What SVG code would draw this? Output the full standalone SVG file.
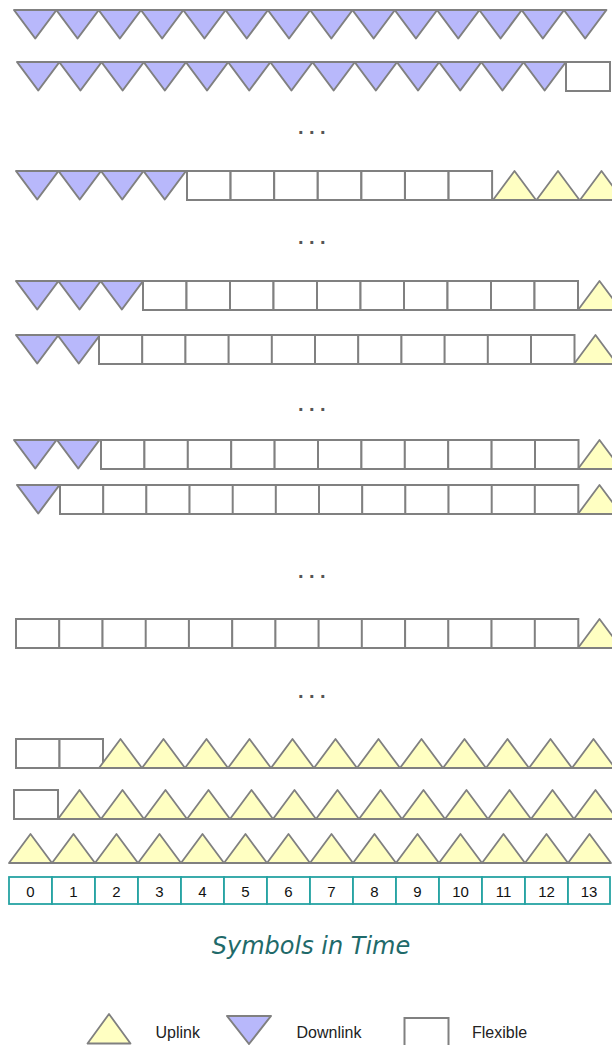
<svg xmlns="http://www.w3.org/2000/svg" xmlns:xlink="http://www.w3.org/1999/xlink" width="612" height="1045" viewBox="0 0 612 1045">
<style>
.dl{fill:#b8b8fb;stroke:#808080;stroke-width:2;stroke-linejoin:round}
.ul{fill:#ffffc2;stroke:#808080;stroke-width:1.8;stroke-linejoin:round}
.fx{fill:#ffffff;stroke:#808080;stroke-width:2}
.ix{fill:#ffffff;stroke:#26a3a3;stroke-width:1.8}
.num{font-family:"Liberation Sans",Arial,sans-serif;font-size:15px;fill:#111;text-anchor:middle}
.dots{font-family:"Liberation Sans",Arial,sans-serif;font-size:20px;font-weight:bold;fill:#555;letter-spacing:5.4px}
.leg{font-family:"Liberation Sans",Arial,sans-serif;font-size:16px;fill:#222}
.title{font-family:"DejaVu Sans",sans-serif;font-style:oblique;font-size:24px;fill:#1f6a6a;text-anchor:middle}
</style>
<defs>
<path id="dlt" d="M0,0 H42.5 L21.25,28.5 Z"/>
<path id="ult" d="M0,29 H43 L21.5,0 Z"/>
<rect id="fxb" x="0" y="0" width="43.5" height="29"/>
</defs>

<g id="row1">
<use xlink:href="#dlt" class="dl" x="14" y="10"/>
<use xlink:href="#dlt" class="dl" x="56.3" y="10"/>
<use xlink:href="#dlt" class="dl" x="98.6" y="10"/>
<use xlink:href="#dlt" class="dl" x="140.9" y="10"/>
<use xlink:href="#dlt" class="dl" x="183.2" y="10"/>
<use xlink:href="#dlt" class="dl" x="225.5" y="10"/>
<use xlink:href="#dlt" class="dl" x="267.8" y="10"/>
<use xlink:href="#dlt" class="dl" x="310.1" y="10"/>
<use xlink:href="#dlt" class="dl" x="352.4" y="10"/>
<use xlink:href="#dlt" class="dl" x="394.7" y="10"/>
<use xlink:href="#dlt" class="dl" x="437" y="10"/>
<use xlink:href="#dlt" class="dl" x="479.3" y="10"/>
<use xlink:href="#dlt" class="dl" x="521.6" y="10"/>
<use xlink:href="#dlt" class="dl" x="563.9" y="10"/>
</g>

<g id="row2">
<use xlink:href="#dlt" class="dl" x="17" y="62"/>
<use xlink:href="#dlt" class="dl" x="59.2" y="62"/>
<use xlink:href="#dlt" class="dl" x="101.4" y="62"/>
<use xlink:href="#dlt" class="dl" x="143.6" y="62"/>
<use xlink:href="#dlt" class="dl" x="185.8" y="62"/>
<use xlink:href="#dlt" class="dl" x="228" y="62"/>
<use xlink:href="#dlt" class="dl" x="270.2" y="62"/>
<use xlink:href="#dlt" class="dl" x="312.4" y="62"/>
<use xlink:href="#dlt" class="dl" x="354.6" y="62"/>
<use xlink:href="#dlt" class="dl" x="396.8" y="62"/>
<use xlink:href="#dlt" class="dl" x="439" y="62"/>
<use xlink:href="#dlt" class="dl" x="481.2" y="62"/>
<use xlink:href="#dlt" class="dl" x="523.4" y="62"/>
<rect class="fx" x="566" y="62" width="44" height="29"/>
</g>

<text class="dots" x="298" y="134">...</text>

<g id="row3">
<use xlink:href="#dlt" class="dl" x="16" y="171"/>
<use xlink:href="#dlt" class="dl" x="58.5" y="171"/>
<use xlink:href="#dlt" class="dl" x="101" y="171"/>
<use xlink:href="#dlt" class="dl" x="143.5" y="171"/>
<use xlink:href="#fxb" class="fx" x="187" y="171"/>
<use xlink:href="#fxb" class="fx" x="230.6" y="171"/>
<use xlink:href="#fxb" class="fx" x="274.2" y="171"/>
<use xlink:href="#fxb" class="fx" x="317.8" y="171"/>
<use xlink:href="#fxb" class="fx" x="361.4" y="171"/>
<use xlink:href="#fxb" class="fx" x="405" y="171"/>
<use xlink:href="#fxb" class="fx" x="448.6" y="171"/>
<use xlink:href="#ult" class="ul" x="493" y="171"/>
<use xlink:href="#ult" class="ul" x="536.5" y="171"/>
<use xlink:href="#ult" class="ul" x="580" y="171"/>
</g>

<text class="dots" x="298" y="244">...</text>

<g id="row4">
<use xlink:href="#dlt" class="dl" x="16" y="281"/>
<use xlink:href="#dlt" class="dl" x="58.3" y="281"/>
<use xlink:href="#dlt" class="dl" x="100.6" y="281"/>
<use xlink:href="#fxb" class="fx" x="143" y="281"/>
<use xlink:href="#fxb" class="fx" x="186.5" y="281"/>
<use xlink:href="#fxb" class="fx" x="230" y="281"/>
<use xlink:href="#fxb" class="fx" x="273.5" y="281"/>
<use xlink:href="#fxb" class="fx" x="317" y="281"/>
<use xlink:href="#fxb" class="fx" x="360.5" y="281"/>
<use xlink:href="#fxb" class="fx" x="404" y="281"/>
<use xlink:href="#fxb" class="fx" x="447.5" y="281"/>
<use xlink:href="#fxb" class="fx" x="491" y="281"/>
<use xlink:href="#fxb" class="fx" x="534.5" y="281"/>
<use xlink:href="#ult" class="ul" x="578" y="281"/>
</g>

<g id="row5">
<use xlink:href="#dlt" class="dl" x="16" y="335"/>
<use xlink:href="#dlt" class="dl" x="57.5" y="335"/>
<use xlink:href="#fxb" class="fx" x="99" y="335"/>
<use xlink:href="#fxb" class="fx" x="142.2" y="335"/>
<use xlink:href="#fxb" class="fx" x="185.4" y="335"/>
<use xlink:href="#fxb" class="fx" x="228.6" y="335"/>
<use xlink:href="#fxb" class="fx" x="271.8" y="335"/>
<use xlink:href="#fxb" class="fx" x="315" y="335"/>
<use xlink:href="#fxb" class="fx" x="358.2" y="335"/>
<use xlink:href="#fxb" class="fx" x="401.4" y="335"/>
<use xlink:href="#fxb" class="fx" x="444.6" y="335"/>
<use xlink:href="#fxb" class="fx" x="487.8" y="335"/>
<use xlink:href="#fxb" class="fx" x="531" y="335"/>
<use xlink:href="#ult" class="ul" x="574" y="335"/>
</g>

<text class="dots" x="298" y="411">...</text>

<g id="row6">
<use xlink:href="#dlt" class="dl" x="14" y="440"/>
<use xlink:href="#dlt" class="dl" x="57" y="440"/>
<use xlink:href="#fxb" class="fx" x="101" y="440"/>
<use xlink:href="#fxb" class="fx" x="144.4" y="440"/>
<use xlink:href="#fxb" class="fx" x="187.8" y="440"/>
<use xlink:href="#fxb" class="fx" x="231.2" y="440"/>
<use xlink:href="#fxb" class="fx" x="274.6" y="440"/>
<use xlink:href="#fxb" class="fx" x="318" y="440"/>
<use xlink:href="#fxb" class="fx" x="361.4" y="440"/>
<use xlink:href="#fxb" class="fx" x="404.8" y="440"/>
<use xlink:href="#fxb" class="fx" x="448.2" y="440"/>
<use xlink:href="#fxb" class="fx" x="491.6" y="440"/>
<use xlink:href="#fxb" class="fx" x="535" y="440"/>
<use xlink:href="#ult" class="ul" x="578" y="440"/>
</g>

<g id="row7">
<use xlink:href="#dlt" class="dl" x="17" y="485"/>
<use xlink:href="#fxb" class="fx" x="60" y="485"/>
<use xlink:href="#fxb" class="fx" x="103.2" y="485"/>
<use xlink:href="#fxb" class="fx" x="146.3" y="485"/>
<use xlink:href="#fxb" class="fx" x="189.5" y="485"/>
<use xlink:href="#fxb" class="fx" x="232.7" y="485"/>
<use xlink:href="#fxb" class="fx" x="275.8" y="485"/>
<use xlink:href="#fxb" class="fx" x="319" y="485"/>
<use xlink:href="#fxb" class="fx" x="362.2" y="485"/>
<use xlink:href="#fxb" class="fx" x="405.3" y="485"/>
<use xlink:href="#fxb" class="fx" x="448.5" y="485"/>
<use xlink:href="#fxb" class="fx" x="491.7" y="485"/>
<use xlink:href="#fxb" class="fx" x="534.8" y="485"/>
<use xlink:href="#ult" class="ul" x="578" y="485"/>
</g>

<text class="dots" x="298" y="578">...</text>

<g id="row8">
<use xlink:href="#fxb" class="fx" x="16" y="619"/>
<use xlink:href="#fxb" class="fx" x="59.2" y="619"/>
<use xlink:href="#fxb" class="fx" x="102.5" y="619"/>
<use xlink:href="#fxb" class="fx" x="145.7" y="619"/>
<use xlink:href="#fxb" class="fx" x="188.9" y="619"/>
<use xlink:href="#fxb" class="fx" x="232.2" y="619"/>
<use xlink:href="#fxb" class="fx" x="275.4" y="619"/>
<use xlink:href="#fxb" class="fx" x="318.6" y="619"/>
<use xlink:href="#fxb" class="fx" x="361.8" y="619"/>
<use xlink:href="#fxb" class="fx" x="405.1" y="619"/>
<use xlink:href="#fxb" class="fx" x="448.3" y="619"/>
<use xlink:href="#fxb" class="fx" x="491.5" y="619"/>
<use xlink:href="#fxb" class="fx" x="534.8" y="619"/>
<use xlink:href="#ult" class="ul" x="578" y="619"/>
</g>

<text class="dots" x="298" y="698">...</text>

<g id="row9">
<use xlink:href="#fxb" class="fx" x="16" y="739"/>
<use xlink:href="#fxb" class="fx" x="59.5" y="739"/>
<use xlink:href="#ult" class="ul" x="99" y="739"/>
<use xlink:href="#ult" class="ul" x="142" y="739"/>
<use xlink:href="#ult" class="ul" x="185" y="739"/>
<use xlink:href="#ult" class="ul" x="228" y="739"/>
<use xlink:href="#ult" class="ul" x="271" y="739"/>
<use xlink:href="#ult" class="ul" x="314" y="739"/>
<use xlink:href="#ult" class="ul" x="357" y="739"/>
<use xlink:href="#ult" class="ul" x="400" y="739"/>
<use xlink:href="#ult" class="ul" x="443" y="739"/>
<use xlink:href="#ult" class="ul" x="486" y="739"/>
<use xlink:href="#ult" class="ul" x="529" y="739"/>
<use xlink:href="#ult" class="ul" x="572" y="739"/>
</g>

<g id="row10">
<rect class="fx" x="14" y="790" width="44" height="29"/>
<use xlink:href="#ult" class="ul" x="58" y="790"/>
<use xlink:href="#ult" class="ul" x="101" y="790"/>
<use xlink:href="#ult" class="ul" x="144" y="790"/>
<use xlink:href="#ult" class="ul" x="187" y="790"/>
<use xlink:href="#ult" class="ul" x="230" y="790"/>
<use xlink:href="#ult" class="ul" x="273" y="790"/>
<use xlink:href="#ult" class="ul" x="316" y="790"/>
<use xlink:href="#ult" class="ul" x="359" y="790"/>
<use xlink:href="#ult" class="ul" x="402" y="790"/>
<use xlink:href="#ult" class="ul" x="445" y="790"/>
<use xlink:href="#ult" class="ul" x="488" y="790"/>
<use xlink:href="#ult" class="ul" x="531" y="790"/>
<use xlink:href="#ult" class="ul" x="574" y="790"/>
</g>

<g id="row11">
<use xlink:href="#ult" class="ul" x="9" y="834"/>
<use xlink:href="#ult" class="ul" x="52" y="834"/>
<use xlink:href="#ult" class="ul" x="95" y="834"/>
<use xlink:href="#ult" class="ul" x="138" y="834"/>
<use xlink:href="#ult" class="ul" x="181" y="834"/>
<use xlink:href="#ult" class="ul" x="224" y="834"/>
<use xlink:href="#ult" class="ul" x="267" y="834"/>
<use xlink:href="#ult" class="ul" x="310" y="834"/>
<use xlink:href="#ult" class="ul" x="353" y="834"/>
<use xlink:href="#ult" class="ul" x="396" y="834"/>
<use xlink:href="#ult" class="ul" x="439" y="834"/>
<use xlink:href="#ult" class="ul" x="482" y="834"/>
<use xlink:href="#ult" class="ul" x="525" y="834"/>
<use xlink:href="#ult" class="ul" x="568" y="834"/>
</g>

<g id="index">
<rect class="ix" x="9" y="877" width="43" height="27"/>
<rect class="ix" x="52" y="877" width="43" height="27"/>
<rect class="ix" x="95" y="877" width="43" height="27"/>
<rect class="ix" x="138" y="877" width="43" height="27"/>
<rect class="ix" x="181" y="877" width="43" height="27"/>
<rect class="ix" x="224" y="877" width="43" height="27"/>
<rect class="ix" x="267" y="877" width="43" height="27"/>
<rect class="ix" x="310" y="877" width="43" height="27"/>
<rect class="ix" x="353" y="877" width="43" height="27"/>
<rect class="ix" x="396" y="877" width="43" height="27"/>
<rect class="ix" x="439" y="877" width="43" height="27"/>
<rect class="ix" x="482" y="877" width="43" height="27"/>
<rect class="ix" x="525" y="877" width="43" height="27"/>
<rect class="ix" x="568" y="877" width="42" height="27"/>
<text class="num" x="30.5" y="896.5">0</text>
<text class="num" x="73.5" y="896.5">1</text>
<text class="num" x="116.5" y="896.5">2</text>
<text class="num" x="159.5" y="896.5">3</text>
<text class="num" x="202.5" y="896.5">4</text>
<text class="num" x="245.5" y="896.5">5</text>
<text class="num" x="288.5" y="896.5">6</text>
<text class="num" x="331.5" y="896.5">7</text>
<text class="num" x="374.5" y="896.5">8</text>
<text class="num" x="417.5" y="896.5">9</text>
<text class="num" x="460.5" y="896.5">10</text>
<text class="num" x="503.5" y="896.5">11</text>
<text class="num" x="546.5" y="896.5">12</text>
<text class="num" x="589" y="896.5">13</text>
</g>

<text id="title" class="title" x="311" y="954">Symbols in Time</text>

<g id="legend">
<path class="ul" d="M87.5,1043.5 H130.5 L109,1014 Z"/>
<text class="leg" x="155.5" y="1038">Uplink</text>
<path class="dl" d="M227,1016 H271 L249,1044 Z"/>
<text class="leg" x="296.5" y="1038">Downlink</text>
<rect class="fx" x="404.5" y="1018" width="44" height="29"/>
<text class="leg" x="472" y="1038">Flexible</text>
</g>
</svg>
